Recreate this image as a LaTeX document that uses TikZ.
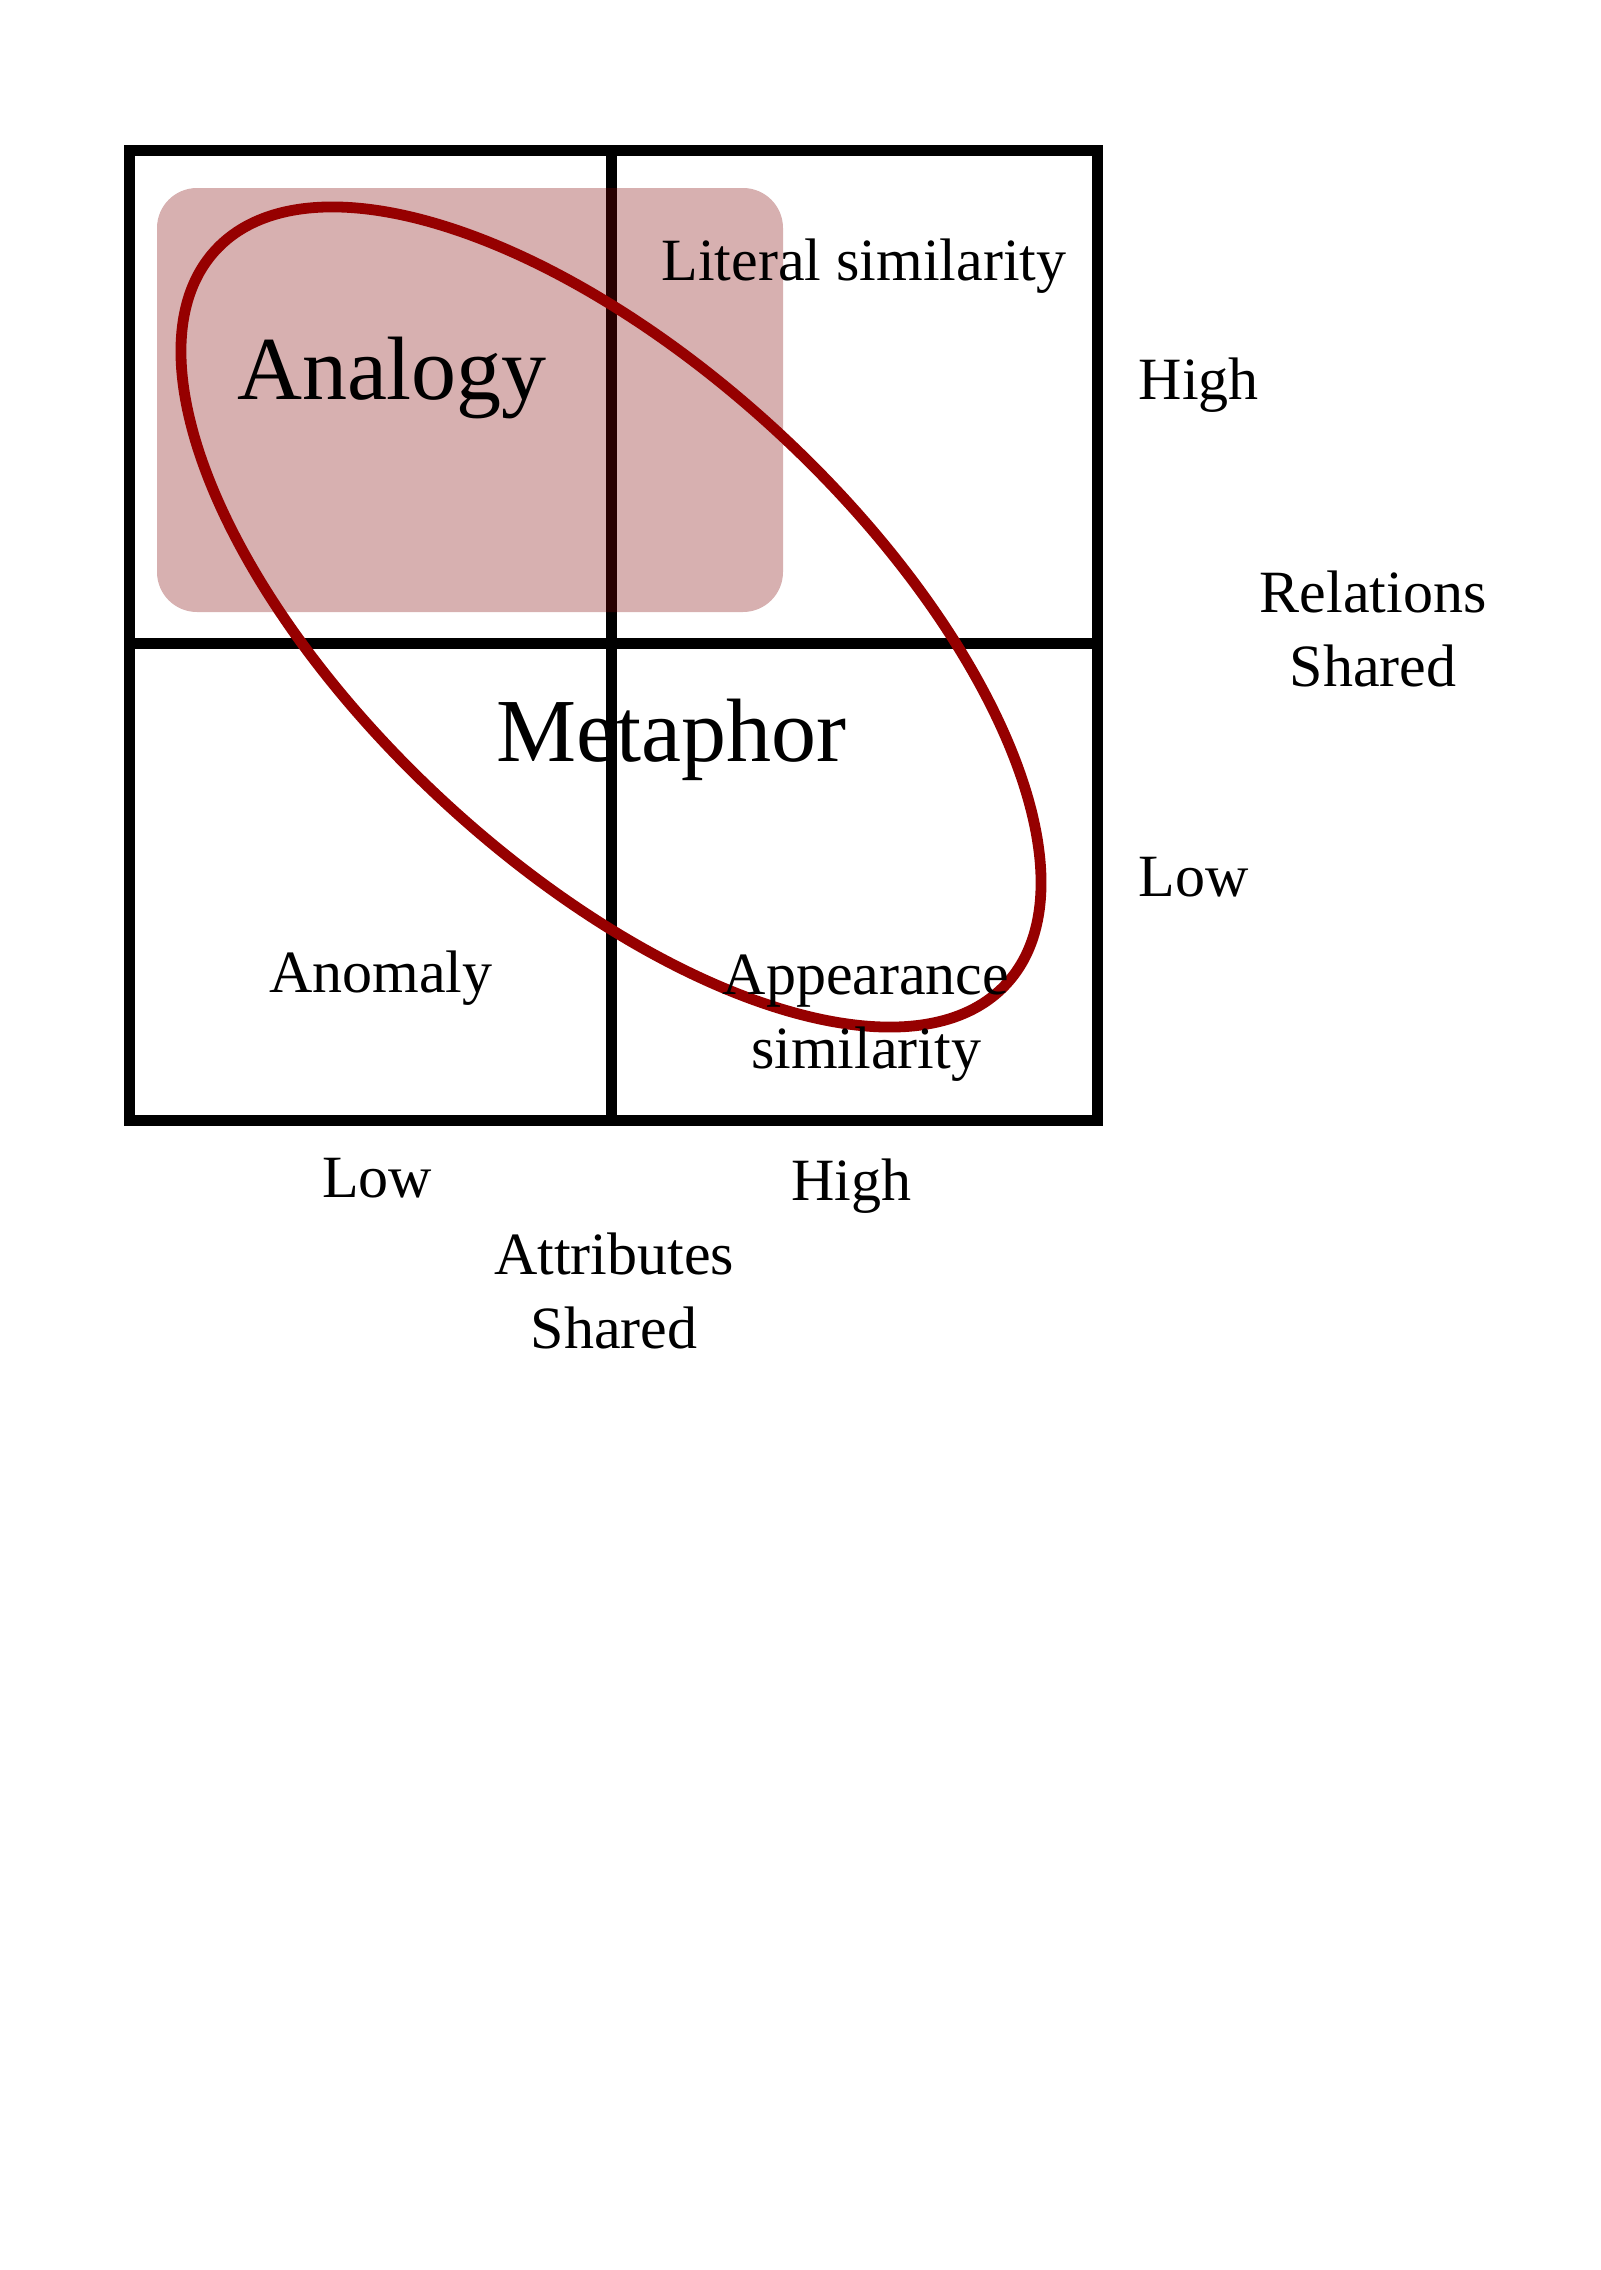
\documentclass[tikz,border=0pt]{standalone}
\usepackage{fontspec}
\setmainfont{Liberation Serif}
\definecolor{ellred}{RGB}{150,0,0}
\definecolor{boxred}{RGB}{129,0,2}
\begin{document}
\begin{tikzpicture}[x=0.25pt,y=-0.25pt,
  gridline/.style={line width=2.75pt,draw=black,line join=miter,line cap=rect},
  pinkbox/.style={fill=boxred,fill opacity=0.31,rounded corners=10pt},
  ellline/.style={line width=2.7pt,draw=ellred},
  lbl/.style={font=\fontsize{15pt}{18.5pt}\selectfont,inner sep=0pt,align=center,text=black},
  biglbl/.style={font=\fontsize{22.5pt}{27pt}\selectfont,inner sep=0pt,text=black}]
\useasboundingbox[fill=white] (0,0) rectangle (1600,2270);
% grid
\draw[gridline] (129,150) rectangle (1097,1120);
\draw[gridline] (611,150) -- (611,1120);
\draw[gridline] (129,643) -- (1097,643);
% translucent box
\fill[pinkbox] (157,188) rectangle (783,612);
% ellipse
\draw[ellline, rotate around={-42.9:(611,617)}] (611,617) ellipse [x radius=134.85pt, y radius=62.25pt];
% labels
\node[lbl,anchor=base] (literal) at (864,280) {Literal similarity};
\node[biglbl,anchor=base] (analogy) at (392,399) {Analogy};
\node[biglbl,anchor=base] (metaphor) at (671,761) {Metaphor};
\node[lbl,anchor=base] (anomaly) at (381,992) {Anomaly};
\node[lbl,anchor=base] (appear) at (866,1068) {Appearance\\similarity};
\node[lbl,anchor=base west] (relhigh) at (1138,399) {High};
\node[lbl,anchor=base west] (rellow) at (1138,896) {Low};
\node[lbl,anchor=base] (relations) at (1373,686) {Relations\\Shared};
\node[lbl,anchor=base] (attlow) at (377,1197) {Low};
\node[lbl,anchor=base] (atthigh) at (851,1200) {High};
\node[lbl,anchor=base] (attributes) at (614,1348) {Attributes\\Shared};
\end{tikzpicture}
\end{document}
